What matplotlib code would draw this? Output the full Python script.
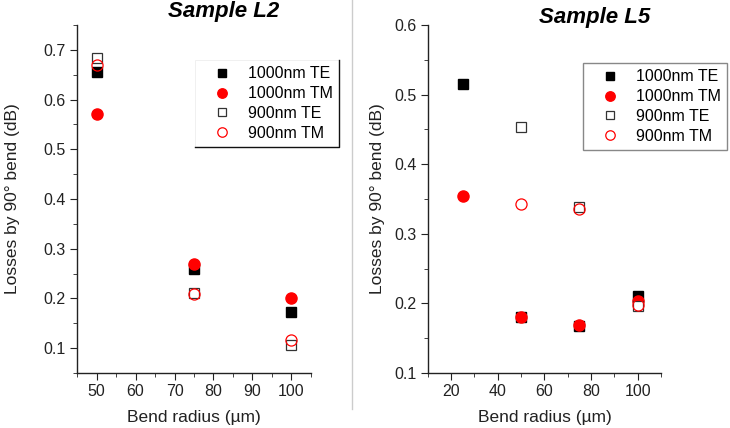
import numpy as np
import matplotlib
matplotlib.use("Agg")
import matplotlib.pyplot as plt
from matplotlib.ticker import MultipleLocator

plt.rcParams["font.family"] = ["Liberation Sans", "DejaVu Sans"]

# Sample L2
radius_l2 = [50, 75, 100]
te1000_l2 = [0.656, 0.260, 0.172]
tm1000_l2 = [0.571, 0.270, 0.201]
te900_l2 = [0.683, 0.210, 0.107]
tm900_l2 = [0.670, 0.209, 0.117]

# Sample L5
radius_l5 = [25, 50, 75, 100]
te1000_l5 = [0.515, 0.180, 0.167, 0.211]
tm1000_l5 = [0.355, 0.180, 0.169, 0.203]
te900_l5 = [np.nan, 0.454, 0.338, 0.196]
tm900_l5 = [np.nan, 0.343, 0.335, 0.198]

labels = ["1000nm TE", "1000nm TM", "900nm TE", "900nm TM"]

fig = plt.figure(figsize=(7.3, 4.28), dpi=100)
ax1 = fig.add_axes([0.1055, 0.1285, 0.3205, 0.8131])
ax2 = fig.add_axes([0.586, 0.1285, 0.3195, 0.8131])


def draw(ax, x, te1, tm1, te9, tm9, ypad):
    ax.plot(x, te1, "s", color="black", ms=6.5, label=labels[0])
    ax.plot(x, tm1, "o", color="red", ms=8, label=labels[1])
    ax.plot(x, te9, "s", mfc="white", mec="#333333", mew=0.9, ms=7, label=labels[2])
    ax.plot(x, tm9, "o", mfc="none", mec="red", mew=0.9, ms=8, label=labels[3])
    for s in ["top", "right"]:
        ax.spines[s].set_visible(False)
    for s in ["left", "bottom"]:
        ax.spines[s].set_color("#222222")
        ax.spines[s].set_linewidth(1.0)
    ax.tick_params(which="both", direction="out", colors="#222222", labelsize=11.5)
    ax.tick_params(which="major", length=5, pad=3)
    ax.tick_params(which="minor", length=3)
    ax.set_xlabel("Bend radius (µm)", fontsize=12.5, color="#222222", labelpad=8)
    ax.set_ylabel("Losses by 90° bend (dB)", fontsize=12.5, color="#222222", labelpad=ypad)


draw(ax1, radius_l2, te1000_l2, tm1000_l2, te900_l2, tm900_l2, 17)
ax1.set_xlim(45, 105)
ax1.set_ylim(0.05, 0.75)
ax1.xaxis.set_major_locator(MultipleLocator(10))
ax1.xaxis.set_minor_locator(MultipleLocator(5))
ax1.yaxis.set_minor_locator(MultipleLocator(0.05))
ax1.set_yticks([0.1, 0.2, 0.3, 0.4, 0.5, 0.6, 0.7])

draw(ax2, radius_l5, te1000_l5, tm1000_l5, te900_l5, tm900_l5, 7)
ax2.set_xlim(10, 110)
ax2.set_ylim(0.1, 0.6)
ax2.xaxis.set_major_locator(MultipleLocator(20))
ax2.xaxis.set_minor_locator(MultipleLocator(10))
ax2.yaxis.set_major_locator(MultipleLocator(0.1))
ax2.yaxis.set_minor_locator(MultipleLocator(0.05))

leg_kw = dict(fontsize=11.5, handlelength=2.6, handletextpad=0.3, borderpad=0.4,
              labelspacing=0.3, borderaxespad=0, fancybox=False, framealpha=1,
              numpoints=1, markerscale=0.85)
l1 = ax1.legend(loc="upper left", bbox_to_anchor=(0.267, 0.86),
                bbox_transform=fig.transFigure, **leg_kw)
l1.get_frame().set_edgecolor("#eeeeee")
l1.get_frame().set_linewidth(0.6)
l2 = ax2.legend(loc="upper left", bbox_to_anchor=(0.799, 0.853),
                bbox_transform=fig.transFigure, **leg_kw)
l2.get_frame().set_edgecolor("#888888")
l2.get_frame().set_linewidth(1.0)

# dark right and bottom edges on the left legend box
fig.canvas.draw()
bb = l1.get_frame().get_window_extent().transformed(fig.transFigure.inverted())
fig.add_artist(plt.Line2D([bb.x0, bb.x1, bb.x1], [bb.y0, bb.y0, bb.y1], color="#111111",
                          lw=1.0, transform=fig.transFigure))

fig.text(0.307, 0.972, "Sample L2", fontsize=16, fontweight="bold", fontstyle="italic",
         ha="center", va="center")
fig.text(0.815, 0.958, "Sample L5", fontsize=16, fontweight="bold", fontstyle="italic",
         ha="center", va="center")

fig.add_artist(plt.Line2D([0.482, 0.482], [0.045, 1.0], color="#cccccc", lw=1.0,
                          transform=fig.transFigure))

fig.savefig("out.png", dpi=100)
